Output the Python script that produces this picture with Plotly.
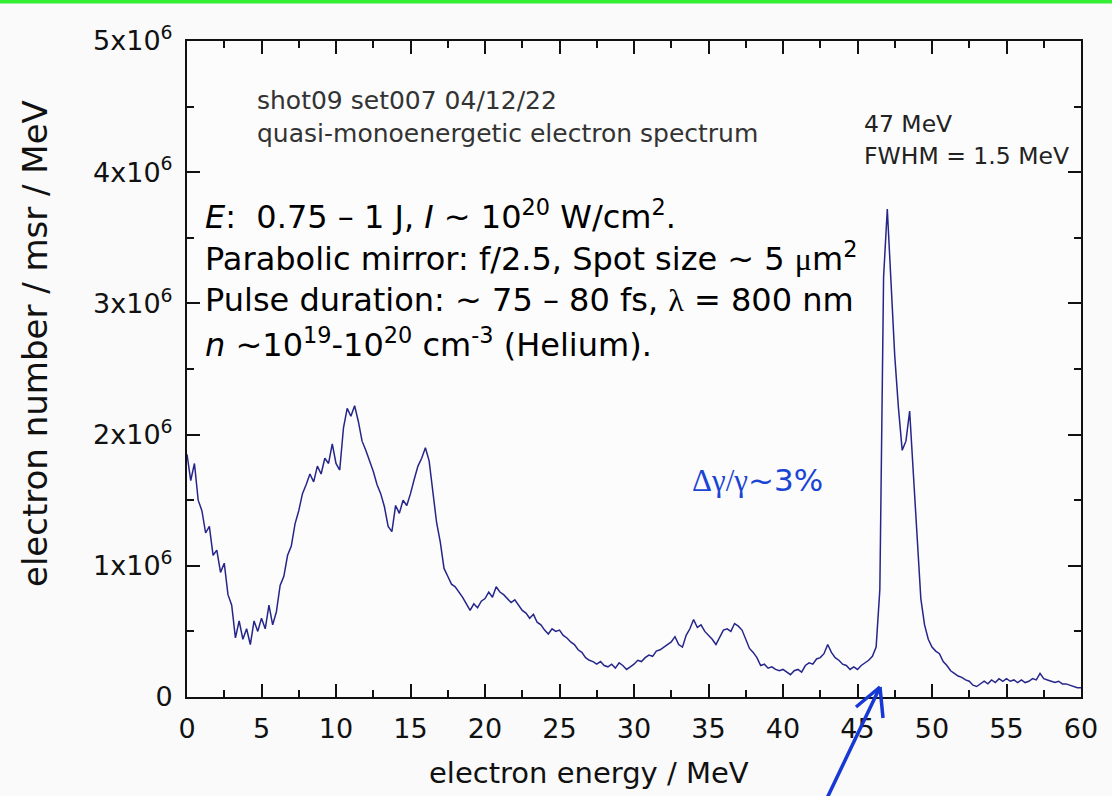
import plotly.graph_objects as go

# ---------------- data ----------------
energy_mev = [
    0.0, 0.25, 0.5, 0.75, 1.0, 1.25, 1.5, 1.75, 2.0, 2.25, 2.5, 2.75, 3.0, 3.25, 3.5, 3.75, 4.0, 4.25, 4.5, 4.75, 5.0,
    5.25, 5.5, 5.75, 6.0, 6.25, 6.5, 6.75, 7.0, 7.25, 7.5, 7.75, 8.0, 8.25, 8.5, 8.75, 9.0, 9.25, 9.5, 9.75, 10.0,
    10.25, 10.5, 10.75, 11.0, 11.25, 11.5, 11.75, 12.0, 12.25, 12.5, 12.75, 13.0, 13.25, 13.5, 13.75, 14.0, 14.25, 14.5, 14.75, 15.0,
    15.25, 15.5, 15.75, 16.0, 16.25, 16.5, 16.75, 17.0, 17.25, 17.5, 17.75, 18.0, 18.25, 18.5, 18.75, 19.0, 19.25, 19.5, 19.75, 20.0,
    20.25, 20.5, 20.75, 21.0, 21.25, 21.5, 21.75, 22.0, 22.25, 22.5, 22.75, 23.0, 23.25, 23.5, 23.75, 24.0, 24.25, 24.5, 24.75, 25.0,
    25.25, 25.5, 25.75, 26.0, 26.25, 26.5, 26.75, 27.0, 27.25, 27.5, 27.75, 28.0, 28.25, 28.5, 28.75, 29.0, 29.25, 29.5, 29.75, 30.0,
    30.25, 30.5, 30.75, 31.0, 31.25, 31.5, 31.75, 32.0, 32.25, 32.5, 32.75, 33.0, 33.25, 33.5, 33.75, 34.0, 34.25, 34.5, 34.75, 35.0,
    35.25, 35.5, 35.75, 36.0, 36.25, 36.5, 36.75, 37.0, 37.25, 37.5, 37.75, 38.0, 38.25, 38.5, 38.75, 39.0, 39.25, 39.5, 39.75, 40.0,
    40.25, 40.5, 40.75, 41.0, 41.25, 41.5, 41.75, 42.0, 42.25, 42.5, 42.75, 43.0, 43.25, 43.5, 43.75, 44.0, 44.25, 44.5, 44.75, 45.0,
    45.25, 45.5, 45.75, 46.0, 46.25, 46.5, 46.75, 47.0, 47.25, 47.5, 47.75, 48.0, 48.25, 48.5, 48.75, 49.0, 49.25, 49.5, 49.75, 50.0,
    50.25, 50.5, 50.75, 51.0, 51.25, 51.5, 51.75, 52.0, 52.25, 52.5, 52.75, 53.0, 53.25, 53.5, 53.75, 54.0, 54.25, 54.5, 54.75, 55.0,
    55.25, 55.5, 55.75, 56.0, 56.25, 56.5, 56.75, 57.0, 57.25, 57.5, 57.75, 58.0, 58.25, 58.5, 58.75, 59.0, 59.25, 59.5, 59.75, 60.0,
]

# electron number / msr / MeV, in units of 1e6
counts_1e6 = [
    1.85, 1.65, 1.78, 1.50, 1.42, 1.25, 1.30, 1.08, 1.12, 0.95, 1.02, 0.78, 0.70, 0.45, 0.58, 0.44, 0.52, 0.40, 0.58, 0.50, 0.60,
    0.52, 0.70, 0.55, 0.65, 0.85, 0.92, 1.08, 1.15, 1.32, 1.42, 1.55, 1.62, 1.70, 1.64, 1.76, 1.70, 1.82, 1.78, 1.93, 1.78,
    1.73, 2.05, 2.20, 2.14, 2.22, 2.10, 1.95, 1.88, 1.80, 1.72, 1.62, 1.55, 1.45, 1.30, 1.26, 1.46, 1.40, 1.50, 1.46, 1.55,
    1.66, 1.76, 1.82, 1.90, 1.80, 1.56, 1.33, 1.18, 0.98, 0.92, 0.86, 0.84, 0.80, 0.76, 0.71, 0.66, 0.71, 0.68, 0.73, 0.75,
    0.80, 0.76, 0.84, 0.80, 0.78, 0.75, 0.72, 0.74, 0.70, 0.66, 0.64, 0.60, 0.63, 0.57, 0.55, 0.51, 0.48, 0.52, 0.50, 0.51,
    0.47, 0.45, 0.42, 0.40, 0.36, 0.34, 0.30, 0.28, 0.27, 0.25, 0.27, 0.24, 0.23, 0.25, 0.22, 0.26, 0.24, 0.21, 0.23, 0.25,
    0.28, 0.27, 0.30, 0.32, 0.31, 0.35, 0.36, 0.38, 0.40, 0.42, 0.46, 0.40, 0.38, 0.47, 0.52, 0.59, 0.53, 0.55, 0.50, 0.47,
    0.44, 0.40, 0.45, 0.51, 0.52, 0.50, 0.56, 0.54, 0.51, 0.44, 0.37, 0.34, 0.30, 0.24, 0.25, 0.22, 0.23, 0.21, 0.20, 0.21,
    0.19, 0.17, 0.20, 0.21, 0.19, 0.24, 0.26, 0.25, 0.29, 0.30, 0.33, 0.40, 0.34, 0.30, 0.28, 0.25, 0.24, 0.21, 0.23, 0.21,
    0.24, 0.26, 0.28, 0.31, 0.38, 0.82, 3.20, 3.72, 3.12, 2.60, 2.20, 1.88, 1.95, 2.18, 1.70, 1.25, 0.75, 0.55, 0.44, 0.38,
    0.35, 0.33, 0.27, 0.24, 0.20, 0.18, 0.16, 0.15, 0.13, 0.12, 0.09, 0.08, 0.10, 0.12, 0.10, 0.13, 0.11, 0.14, 0.12, 0.14,
    0.12, 0.13, 0.11, 0.13, 0.11, 0.12, 0.14, 0.13, 0.18, 0.14, 0.13, 0.12, 0.11, 0.12, 0.10, 0.10, 0.09, 0.08, 0.07, 0.07,
]

x_tick_values = [0, 5, 10, 15, 20, 25, 30, 35, 40, 45, 50, 55, 60]
y_tick_values = [0, 1e6, 2e6, 3e6, 4e6, 5e6]
y_tick_labels = ["0", "1x10<sup>6</sup>", "2x10<sup>6</sup>", "3x10<sup>6</sup>",
                 "4x10<sup>6</sup>", "5x10<sup>6</sup>"]

x_title = "electron energy / MeV"
y_title = "electron number / msr / MeV"
header_lines = ["shot09 set007 04/12/22", "quasi-monoenergetic electron spectrum"]
peak_lines = ["47 MeV", "FWHM = 1.5 MeV"]
SERIF = "font-family:'Liberation Serif',serif"
info_lines = [
    "<i>E</i>:  0.75 \u2013 1 J, <i>I</i> ~ 10<sup>20</sup> W/cm<sup>2</sup>.",
    f"Parabolic mirror: f/2.5, Spot size ~ 5 <span style=\"{SERIF}\">\u03bc</span>m<sup>2</sup>",
    f"Pulse duration: ~ 75 \u2013 80 fs, <span style=\"{SERIF}\">\u03bb</span> = 800 nm",
    "<i>n</i> ~10<sup>19</sup>-10<sup>20</sup> cm<sup>-3</sup> (Helium).",
]
spread_label = f"<span style=\"{SERIF}\">\u0394\u03b3/\u03b3</span>~3%"

# ---------------- layout helpers ----------------
W, H = 1112, 796
L, R, T, B = 187, 31, 41, 99
PW, PH = W - L - R, H - T - B
FONT = "DejaVu Sans"
INK = "#111111"


def px(x):
    return (x - L) / PW


def py(y):
    return (H - B - y) / PH


fig = go.Figure()
fig.add_trace(go.Scatter(
    x=energy_mev,
    y=[v * 1e6 for v in counts_1e6],
    mode="lines",
    line=dict(color="#26268a", width=1.5),
    hoverinfo="skip",
    showlegend=False,
))

axis_common = dict(
    ticks="inside", ticklen=13, tickwidth=2, tickcolor=INK,
    showline=True, linewidth=2, linecolor=INK, mirror="allticks",
    showgrid=False, zeroline=False,
    tickfont=dict(family=FONT, size=27, color=INK),
)

fig.update_xaxes(
    range=[0, 60], tickmode="array", tickvals=x_tick_values,
    ticklabelstandoff=7,
    minor=dict(tick0=0, dtick=2.5, ticks="inside", ticklen=7, tickwidth=2, tickcolor=INK),
    **axis_common,
)
fig.update_yaxes(
    range=[0, 5e6], tickmode="array", tickvals=y_tick_values, ticktext=y_tick_labels,
    ticklabelstandoff=7,
    minor=dict(tick0=0, dtick=0.5e6, ticks="inside", ticklen=7, tickwidth=2, tickcolor=INK),
    **axis_common,
)

annotations = []


def note(text, x, y, size, color=INK, xanchor="left", angle=0):
    annotations.append(dict(
        text=text, x=px(x), y=py(y), xref="paper", yref="paper",
        xanchor=xanchor, yanchor="middle", showarrow=False, textangle=angle,
        font=dict(family=FONT, size=size, color=color),
    ))


note(x_title, 589, 773, 29, xanchor="center")
note(y_title, 35, 344, 34, xanchor="center", angle=-90)
note(header_lines[0], 255, 100, 25, color="#333333")
note(header_lines[1], 255, 133, 25, color="#333333")
note(peak_lines[0], 862, 124, 23.5, color="#222222")
note(peak_lines[1], 862, 156, 23.5, color="#222222")
for line, yy in zip(info_lines, [215, 257, 300, 343]):
    note(line, 203, yy, 32, color="#000000")
note(spread_label, 757, 480, 31, color="#1a45d4", xanchor="center")

shapes = [
    # green rule across the top of the slide
    dict(type="rect", xref="paper", yref="paper", x0=px(0), x1=px(W), y0=py(3.5), y1=py(-2),
         fillcolor="#33ee33", line=dict(width=0), layer="above"),
]
ARROW = "#1638d4"
tip = (880, 687)
for (x0, y0) in [(819, 815), (856, 707), (883, 718)]:
    shapes.append(dict(type="line", xref="paper", yref="paper",
                       x0=px(x0), y0=py(y0), x1=px(tip[0]), y1=py(tip[1]),
                       line=dict(color=ARROW, width=3.5), layer="above"))

fig.update_layout(
    width=W, height=H,
    margin=dict(l=L, r=R, t=T, b=B, pad=0),
    paper_bgcolor="#fafafa",
    plot_bgcolor="#fcfcfc",
    font=dict(family=FONT, color=INK),
    showlegend=False,
    annotations=annotations,
    shapes=shapes,
)

fig.write_html("out.html")
